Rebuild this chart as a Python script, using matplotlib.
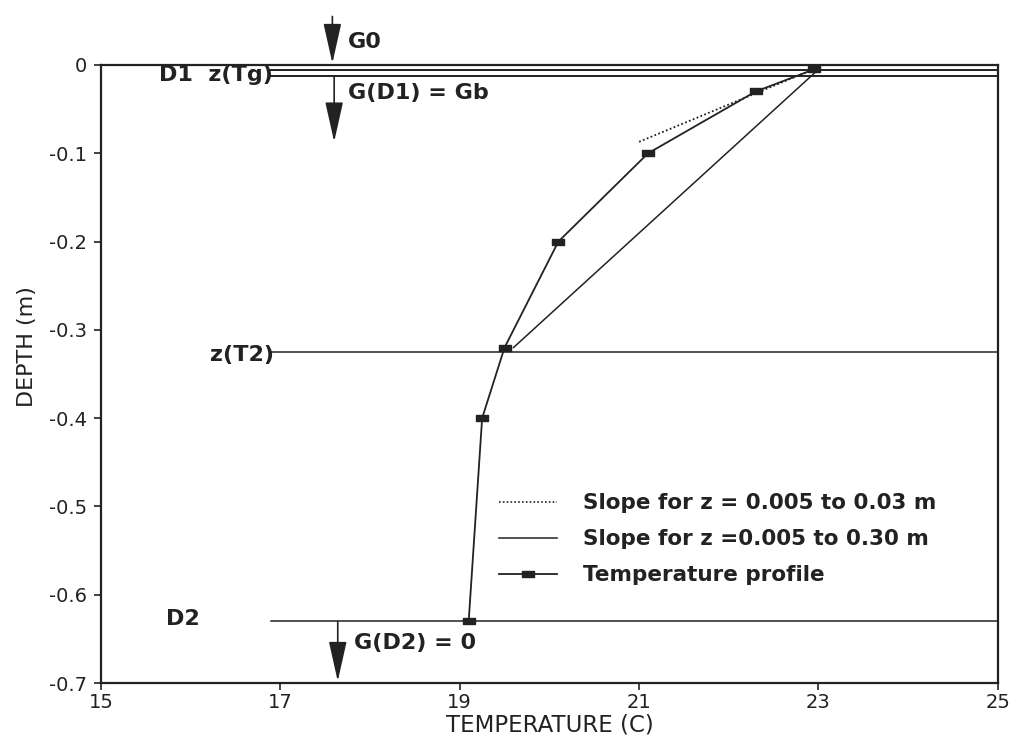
import matplotlib
matplotlib.use("Agg")
import matplotlib.pyplot as plt
from matplotlib.path import Path
from matplotlib.lines import Line2D

# temperature profile (T in C, depth in m)
profile_temp = [22.95, 22.3, 21.1, 20.1, 19.5, 19.25, 19.1]
profile_depth = [-0.005, -0.03, -0.1, -0.2, -0.32, -0.4, -0.63]

# slope lines
slope_short_temp = [21.0, 23.65]
slope_short_depth = [-0.087, 0.025]
slope_long_temp = [23.0, 19.6]
slope_long_depth = [-0.005, -0.32]

# reference depth levels
level_depth = [-0.006, -0.013, -0.325, -0.63]
level_start = [16.9, 16.9, 16.9, 16.9]
level_end = 25.0

# flux arrows: (x, y_from, y_to)
arrow_x = [17.58, 17.6, 17.64]
arrow_from = [0.055, -0.013, -0.63]
arrow_to = [0.002, -0.087, -0.698]

col = "#222222"
plt.rcParams["font.family"] = ["DejaVu Sans"]

fig = plt.figure(figsize=(10.13, 7.42), dpi=100)
ax = fig.add_axes([0.0997, 0.0795, 0.8853, 0.8329])

rect = Path([(-1, -0.55), (1, -0.55), (1, 0.55), (-1, 0.55), (-1, -0.55)],
            [Path.MOVETO, Path.LINETO, Path.LINETO, Path.LINETO, Path.CLOSEPOLY])

ax.plot(slope_short_temp, slope_short_depth, ls=(0, (1, 1.3)), color=col, lw=1.3)
ax.plot(slope_long_temp, slope_long_depth, color=col, lw=1.1)
ax.plot(profile_temp, profile_depth, color=col, lw=1.3, marker=rect,
        markersize=9, markerfacecolor=col, markeredgecolor=col)

for d, s in zip(level_depth, level_start):
    ax.plot([s, level_end], [d, d], color=col, lw=1.4 if d > -0.1 else 1.1)

for x, y0, y1 in zip(arrow_x, arrow_from, arrow_to):
    ax.annotate("", xy=(x, y1), xytext=(x, y0), annotation_clip=False,
                arrowprops=dict(arrowstyle="-|>,head_length=1.25,head_width=0.28",
                                color=col, lw=1.2, mutation_scale=20,
                                shrinkA=0, shrinkB=0))

bold = dict(fontsize=16, fontweight="bold", va="center", color=col)
ax.text(17.75, 0.026, "G0", **bold)
ax.text(17.75, -0.032, "G(D1) = Gb", **bold)
ax.text(17.82, -0.655, "G(D2) = 0", **bold)
ax.text(15.65, -0.011, "D1  z(Tg)", **bold)
ax.text(16.22, -0.329, "z(T2)", **bold)
ax.text(15.72, -0.628, "D2", **bold)

ax.set_xlim(15, 25)
ax.set_ylim(-0.7, 0)
ax.set_xticks([15, 17, 19, 21, 23, 25])
ax.set_yticks([0, -0.1, -0.2, -0.3, -0.4, -0.5, -0.6, -0.7])
ax.set_yticklabels(["0", "-0.1", "-0.2", "-0.3", "-0.4", "-0.5", "-0.6", "-0.7"])
ax.tick_params(labelsize=14, colors=col, length=5, width=1.2)
ax.tick_params(axis="x", pad=2)
ax.tick_params(axis="y", pad=5)
for sp in ax.spines.values():
    sp.set_color(col)
    sp.set_linewidth(1.6)

ax.set_xlabel("TEMPERATURE (C)", fontsize=16.5, color=col, labelpad=1)
ax.set_ylabel("DEPTH (m)", fontsize=16, color=col)
ax.yaxis.set_label_coords(-0.071, 0.545)

handles = [
    Line2D([], [], ls=(0, (1, 1.3)), color=col, lw=1.2),
    Line2D([], [], color=col, lw=1.1),
    Line2D([], [], color=col, lw=1.3, marker=rect, markersize=9,
           markerfacecolor=col, markeredgecolor=col),
]
labels = ["Slope for z = 0.005 to 0.03 m",
          "Slope for z =0.005 to 0.30 m",
          "Temperature profile"]
leg = fig.legend(handles, labels, loc="upper left", bbox_to_anchor=(0.482, 0.35),
                 frameon=False, prop={"size": 15.5, "weight": "bold"},
                 handlelength=2.7, handletextpad=1.2, labelspacing=0.75,
                 borderpad=0)
for t in leg.get_texts():
    t.set_color(col)

fig.savefig("out.png", dpi=100)
